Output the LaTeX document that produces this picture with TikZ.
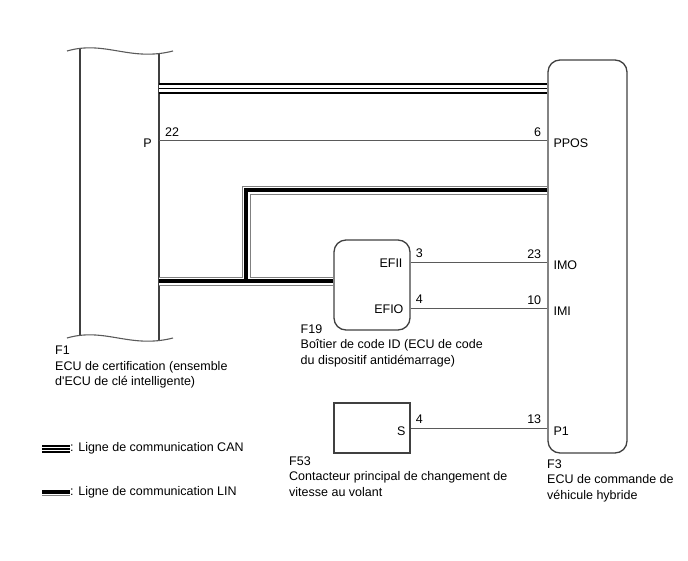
\documentclass[tikz,border=0pt]{standalone}
\usepackage{fontspec}
\setmainfont{Liberation Sans}
\usetikzlibrary{positioning}
\definecolor{boxgray}{HTML}{404040}
\definecolor{wiregray}{HTML}{5A5A5A}
\tikzset{
  box/.style={draw=boxgray, line width=1.3pt, minimum width=76pt, inner sep=0pt},
  ecu/.style={box, rounded corners=12pt},
  wire/.style={draw=wiregray, line width=0.9pt},
  can/.style={draw=black, line width=11pt, postaction={draw=white, line width=7pt}, postaction={draw=black, line width=1pt}},
  lin/.style={draw=gray, line width=9pt, postaction={draw=white, line width=7pt}, postaction={draw=black, line width=4pt}},
  canmark/.style={draw=black, line width=8pt, postaction={draw=white, line width=4pt}, postaction={draw=black, line width=2pt}},
  linmark/.style={draw=gray, line width=7pt, postaction={draw=white, line width=5.5pt}, postaction={draw=black, line width=4pt}},
  pin/.style={inner sep=0pt},
  caption/.style={align=left, anchor=north west, inner sep=0pt}
}
\begin{document}
\begin{tikzpicture}[x=1pt, y=-1pt, every node/.style={font=\fontsize{12.5}{15.5}\selectfont}]
    \useasboundingbox (0,0) rectangle (688,560);

    % F1 (cut off at top and bottom)
    \draw[boxgray, line width=1.6pt] (80,48.4) -- (80,335.4);
    \draw[boxgray, line width=1.6pt] (159,53.7) -- (159,340.7);
    \draw[wiregray, line width=1.1pt] (67,51) .. controls (105,40) and (130,62) .. (173,51);
    \draw[wiregray, line width=1.1pt] (67,338) .. controls (105,327) and (130,349) .. (173,338);

    % other ECUs
    \node[ecu, minimum width=79pt, minimum height=393pt] (F3) at (587.5,256.5) {};
    \node[ecu, minimum height=90pt] (F19) at (372,285) {};
    \node[box, minimum height=50pt] (F53) at (372,428) {};

    % pins
    \coordinate (canL) at (159,88);
    \coordinate (ppos) at (159,140);
    \coordinate (linT) at (246,190);
    \coordinate (linB) at (246,281);
    \coordinate (linL) at (159,281);
    \path (F19.east) ++(0,-23) coordinate (efii);
    \path (F19.east) ++(0,23) coordinate (efio);
    \coordinate (canR) at (canL -| F3.west);
    \coordinate (pposR) at (ppos -| F3.west);
    \coordinate (linR) at (linT -| F3.west);
    \coordinate (imo) at (efii -| F3.west);
    \coordinate (imi) at (efio -| F3.west);
    \coordinate (pone) at (F53.east -| F3.west);

    % buses
    \draw[can] (canL) -- (canR);
    \draw[lin] (linR) -- (linT) -- (linB) (linL) -- (F19.west |- linL);

    % wires
    \draw[wire] (ppos) -- (pposR);
    \draw[wire] (efii) -- (imo);
    \draw[wire] (efio) -- (imi);
    \draw[wire] (F53.east) -- (pone);

    % pin labels
    \node[pin, anchor=base east] at ([shift={(-7,7)}]ppos) {P};
    \node[pin, anchor=base west] at ([shift={(6,-4)}]ppos) {22};
    \node[pin, anchor=base east] at ([shift={(-6,-4)}]pposR) {6};
    \node[pin, anchor=base west] at ([shift={(6,7)}]pposR) {PPOS};

    \node[pin, anchor=base east] at ([shift={(-8,5)}]efii) {EFII};
    \node[pin, anchor=base west] at ([shift={(5,-5)}]efii) {3};
    \node[pin, anchor=base east] at ([shift={(-6,-4)}]imo) {23};
    \node[pin, anchor=base west] at ([shift={(6,7)}]imo) {IMO};

    \node[pin, anchor=base east] at ([shift={(-7,5)}]efio) {EFIO};
    \node[pin, anchor=base west] at ([shift={(5,-5)}]efio) {4};
    \node[pin, anchor=base east] at ([shift={(-6,-4)}]imi) {10};
    \node[pin, anchor=base west] at ([shift={(6,7)}]imi) {IMI};

    \node[pin, anchor=base east] at ([shift={(-5,7)}]F53.east) {S};
    \node[pin, anchor=base west] at ([shift={(5,-5)}]F53.east) {4};
    \node[pin, anchor=base east] at ([shift={(-6,-5)}]pone) {13};
    \node[pin, anchor=base west] at ([shift={(6,7)}]pone) {P1};

    % captions
    \node[caption] (capF1) at (55,346.1) {F1\\ECU de certification (ensemble\\d\textquotesingle ECU de clé intelligente)};
    \node[caption] (capF19) at (300.5,324.1) {F19\\Boîtier de code ID (ECU de code\\du dispositif antidémarrage)};
    \node[caption] (capF53) at (289,456.1) {F53\\Contacteur principal de changement de\\vitesse au volant};
    \node[caption] (capF3) at (547,459.1) {F3\\ECU de commande de\\véhicule hybride};

    % legend
    \coordinate (canmarkL) at (42,448.5);
    \coordinate (canmarkR) at (70,448.5);
    \coordinate (linmarkL) at (42,492);
    \coordinate (linmarkR) at (70,492);
    \draw[canmark] (canmarkL) -- (canmarkR);
    \draw[linmark] (linmarkL) -- (linmarkR);
    \node[pin, anchor=west] at (canmarkR) {: Ligne de communication CAN};
    \node[pin, anchor=west] at (linmarkR) {: Ligne de communication LIN};
\end{tikzpicture}
\end{document}
